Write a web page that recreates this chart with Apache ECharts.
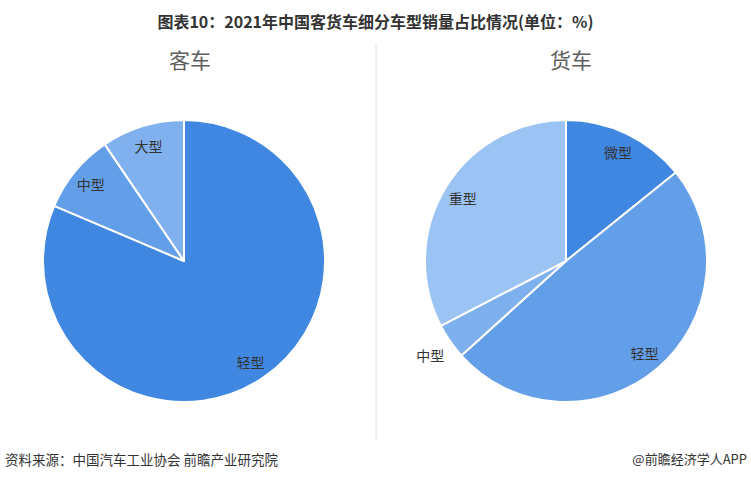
<!DOCTYPE html>
<html>
<head>
<meta charset="utf-8">
<script src="https://cdn.jsdelivr.net/npm/echarts@6/dist/echarts.min.js"></script>
<style>
html,body{margin:0;padding:0;background:#fff;}
#chart{width:751px;height:481px;}
</style>
</head>
<body>
<div id="chart"></div>
<script>
const titleText = '图表10：2021年中国客货车细分车型销量占比情况(单位：%)';
const sourceText = '资料来源：中国汽车工业协会 前瞻产业研究院';
const creditText = '@前瞻经济学人APP';

const busTitle = '客车';
const busCategories = ['轻型', '中型', '大型'];
const busValues = [81.4, 9.1, 9.5];
const busColors = ['#4087e2', '#639ee8', '#80b1ee'];

const truckTitle = '货车';
const truckCategories = ['微型', '轻型', '中型', '重型'];
const truckValues = [14.2, 49.1, 4.1, 32.6];
const truckColors = ['#4087e2', '#639ee8', '#7eb0ee', '#9bc3f4'];
const truckOutsideLabels = ['中型'];

const FONT = '"Noto Sans CJK SC", "Noto Sans", sans-serif';

function pieData(cats, vals, colors) {
  return cats.map((c, i) => ({ name: c, value: vals[i], itemStyle: { color: colors[i] } }));
}
function labelData(cats, vals, showNames) {
  return cats.map((c, i) => ({
    name: c, value: vals[i],
    label: { show: showNames.indexOf(c) >= 0 }
  }));
}

const R = 141;
function mainPie(center, data) {
  return {
    type: 'pie', center: center, radius: [0, R], startAngle: 90, clockwise: true,
    data: data, label: { show: false }, labelLine: { show: false },
    itemStyle: { borderColor: '#fff', borderWidth: 2 },
    silent: true, animation: false
  };
}
function labelPie(center, data, r0, r1) {
  return {
    type: 'pie', center: center, radius: [r0, r1], startAngle: 90, clockwise: true,
    data: data,
    itemStyle: { color: 'rgba(0,0,0,0)', borderWidth: 0 },
    label: { show: true, position: 'inside', color: '#333', fontSize: 14, fontFamily: FONT, formatter: '{b}' },
    labelLine: { show: false },
    emphasis: { disabled: true },
    silent: true, animation: false, z: 5
  };
}

const busLabelNames = busCategories.slice();
const truckInnerNames = truckCategories.filter(c => truckOutsideLabels.indexOf(c) < 0);

const chart = echarts.init(document.getElementById('chart'), null, { renderer: 'svg' });
chart.setOption({
  backgroundColor: '#fff',
  animation: false,
  title: [
    { text: titleText, left: 'center', top: 8, textStyle: { fontSize: 16, fontWeight: 'bold', color: '#333', fontFamily: FONT } },
    { text: busTitle, left: 185, textAlign: 'center', top: 43, textStyle: { fontSize: 21, fontWeight: 'normal', color: '#5f5f5f', fontFamily: FONT } },
    { text: truckTitle, left: 566, textAlign: 'center', top: 43, textStyle: { fontSize: 21, fontWeight: 'normal', color: '#5f5f5f', fontFamily: FONT } }
  ],
  graphic: [
    { type: 'line', shape: { x1: 376, y1: 45, x2: 376, y2: 440 }, style: { stroke: '#dcdcdc', lineWidth: 1 } },
    { type: 'text', left: 5, top: 452, style: { text: sourceText, fontSize: 13.5, fill: '#333', fontFamily: FONT } },
    { type: 'text', right: 4, top: 452, style: { text: creditText, fontSize: 13, fill: '#333', fontFamily: FONT } }
  ],
  series: [
    mainPie([184, 261], pieData(busCategories, busValues, busColors)),
    labelPie([184, 261], labelData(busCategories, busValues, busLabelNames), R * 0.67, R),
    mainPie([566, 261], pieData(truckCategories, truckValues, truckColors)),
    labelPie([566, 261], labelData(truckCategories, truckValues, truckInnerNames), R * 0.67, R),
    labelPie([566, 261], labelData(truckCategories, truckValues, truckOutsideLabels), R, R * 1.3)
  ]
});
</script>
</body>
</html>
